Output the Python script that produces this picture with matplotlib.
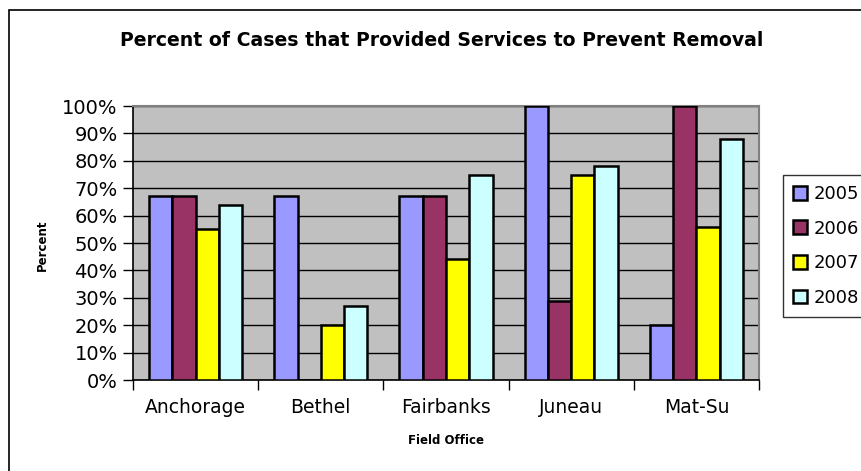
import matplotlib
matplotlib.use("Agg")
import matplotlib.pyplot as plt
from matplotlib.patches import Rectangle, Patch
from matplotlib.ticker import FixedLocator, PercentFormatter
import numpy as np

offices = ["Anchorage", "Bethel", "Fairbanks", "Juneau", "Mat-Su"]
years = ["2005", "2006", "2007", "2008"]
pct_2005 = [67, 67, 67, 100, 20]
pct_2006 = [67, 0, 67, 29, 100]
pct_2007 = [55, 20, 44, 75, 56]
pct_2008 = [64, 27, 75, 78, 88]
series = [pct_2005, pct_2006, pct_2007, pct_2008]
colors = ["#9999FF", "#993366", "#FFFF00", "#CCFFFF"]

plt.rcParams["font.family"] = ["DejaVu Sans"]

fig = plt.figure(figsize=(8.62, 4.71), dpi=100)
fig.patch.set_facecolor("white")

# outer chart frame
fig.patches.append(Rectangle((9 / 862, -0.05), 1.2, 1 - 10 / 471 + 0.05,
                             transform=fig.transFigure, fill=False,
                             edgecolor="black", linewidth=1.2, zorder=0))

ax = fig.add_axes([133 / 862, 1 - 380 / 471, 626 / 862, 274 / 471])
ax.set_facecolor("#C0C0C0")

x = np.arange(len(offices))
w = 0.186
for i, (vals, c) in enumerate(zip(series, colors)):
    ax.bar(x + (i - 1.5) * w, vals, width=w, color=c, edgecolor="black",
           linewidth=1.8, zorder=3, label=years[i])

ax.set_xlim(-0.5, len(offices) - 0.5)
ax.set_ylim(0, 100)
ax.yaxis.set_major_locator(FixedLocator(np.arange(0, 101, 10)))
ax.yaxis.set_major_formatter(PercentFormatter(decimals=0))
ax.grid(axis="y", color="black", linewidth=1.0, zorder=1)
ax.set_axisbelow(True)

ax.set_xticks(x)
ax.set_xticklabels(offices, fontsize=13.5)
ax.xaxis.set_minor_locator(FixedLocator(np.arange(-0.5, len(offices), 1.0)))
ax.tick_params(axis="x", which="major", length=0, pad=13)
ax.tick_params(axis="x", which="minor", length=7, width=1, direction="out")
ax.tick_params(axis="y", length=7, width=1, direction="out", labelsize=14, pad=4)

for side in ["top", "right"]:
    ax.spines[side].set_color("#808080")
    ax.spines[side].set_linewidth(1.5)
for side in ["left", "bottom"]:
    ax.spines[side].set_color("black")
    ax.spines[side].set_linewidth(1.2)

fig.text(442 / 862, 1 - 40 / 471, "Percent of Cases that Provided Services to Prevent Removal",
         ha="center", va="center", fontsize=13.6, fontweight="bold")
fig.text(446 / 862, 1 - 441 / 471, "Field Office", ha="center", va="center",
         fontsize=8.5, fontweight="bold")
fig.text(42 / 862, 1 - 245 / 471, "Percent", ha="center", va="center",
         fontsize=8.5, fontweight="bold", rotation=90)

handles = [Patch(facecolor=c, edgecolor="black", linewidth=1.8) for c in colors]
leg = fig.legend(handles, years, loc="upper left",
                 bbox_to_anchor=(783 / 862, 1 - 175 / 471),
                 frameon=True, fancybox=False, shadow=False, fontsize=13,
                 handlelength=0.8, handleheight=0.8, handletextpad=0.35,
                 labelspacing=0.92, borderpad=0.55, borderaxespad=0)
leg.get_frame().set_edgecolor("black")
leg.get_frame().set_linewidth(1.0)

fig.savefig("out.png", dpi=100)
